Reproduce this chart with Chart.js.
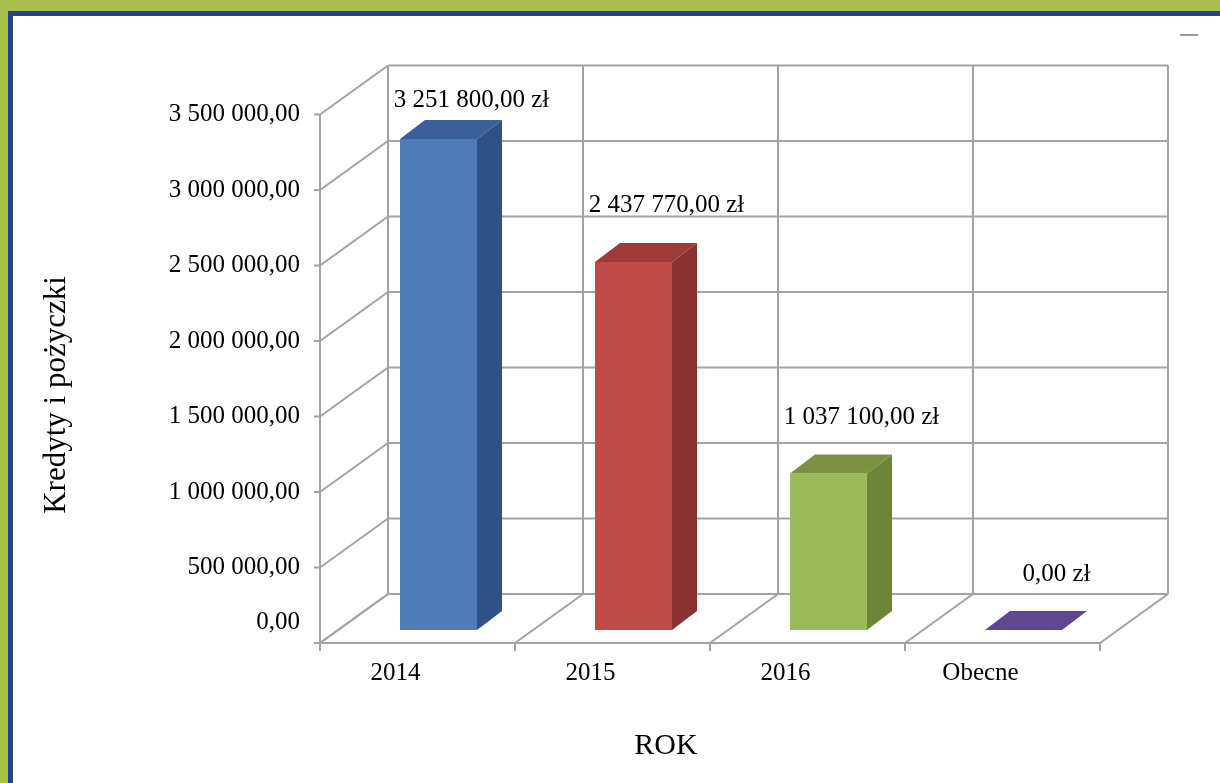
<!DOCTYPE html>
<html>
<head>
<meta charset="utf-8">
<script src="https://cdn.jsdelivr.net/npm/chart.js@4"></script>
<style>
  body { margin: 0; background: #fff; }
  #wrap { position: relative; width: 1220px; height: 783px; overflow: hidden; }
  #chartKredyty { position: absolute; left: 0; top: 0; }
  .green { position: absolute; background: #a9c14a; }
  .blue { position: absolute; background: #26418f; }
</style>
</head>
<body>
<div id="wrap">
  <canvas id="chartKredyty" width="1220" height="783"></canvas>
  <div class="green" style="left:0;top:0;width:1220px;height:11px"></div>
  <div class="green" style="left:0;top:0;width:8px;height:783px"></div>
  <div class="blue" style="left:8px;top:11px;width:1212px;height:5px"></div>
  <div class="blue" style="left:8px;top:11px;width:5px;height:772px"></div>
</div>
<script>
/* Dane */
const kategorie = ['2014', '2015', '2016', 'Obecne'];
const wartosci = [3251800, 2437770, 1037100, 0];
const etykietyWartosci = ['3 251 800,00 zł', '2 437 770,00 zł', '1 037 100,00 zł', '0,00 zł'];
const ticksY = [0, 500000, 1000000, 1500000, 2000000, 2500000, 3000000, 3500000];
const etykietyY = ['0,00', '500 000,00', '1 000 000,00', '1 500 000,00', '2 000 000,00', '2 500 000,00', '3 000 000,00', '3 500 000,00'];

const frontColors = ['#4f7bb9', '#bf4c49', '#9bba59', '#7a5fa0'];
const sideColors = ['#2f5186', '#8a3230', '#6c8538', '#5a4288'];
const topColors = ['#3b6099', '#9e3b39', '#7a9142', '#5f4690'];

const FONT = '"Liberation Serif", "DejaVu Serif", serif';
const GRID = '#a3a3a3';

/* przesuniecia plaszczyzn 3D wzgledem plaszczyzny slupkow */
const front = { dx: -21, dy: 13 };
const back = { dx: 47, dy: -36 };
const depth = { dx: 25, dy: -19 };

const line = (ctx, x1, y1, x2, y2) => {
  ctx.beginPath();
  ctx.moveTo(x1, y1);
  ctx.lineTo(x2, y2);
  ctx.stroke();
};

const poly = (ctx, pts, color) => {
  ctx.beginPath();
  ctx.moveTo(pts[0][0], pts[0][1]);
  for (let i = 1; i < pts.length; i++) ctx.lineTo(pts[i][0], pts[i][1]);
  ctx.closePath();
  ctx.fillStyle = color;
  ctx.fill();
};

const walls3d = {
  id: 'walls3d',
  beforeDatasetsDraw: (chart) => {
    const ctx = chart.ctx;
    const xs = chart.scales.x;
    const ys = chart.scales.y;
    const step = xs.getPixelForValue(1) - xs.getPixelForValue(0);
    let bounds = [];
    for (let i = 0; i <= kategorie.length; i++) {
      bounds.push(xs.getPixelForValue(0) - step / 2 + i * step);
    }
    const left = bounds[0];
    const right = bounds[bounds.length - 1];
    const y0 = ys.getPixelForValue(0);
    const yTop = ys.getPixelForValue(ticksY[ticksY.length - 1]);

    ctx.save();
    ctx.strokeStyle = GRID;
    ctx.lineWidth = 2;

    /* sciana tylna i lewa */
    ticksY.forEach((v) => {
      const y = ys.getPixelForValue(v);
      line(ctx, left + back.dx, y + back.dy, right + back.dx, y + back.dy);
      line(ctx, left + front.dx, y + front.dy, left + back.dx, y + back.dy);
    });
    bounds.forEach((b) => {
      line(ctx, b + back.dx, yTop + back.dy, b + back.dx, y0 + back.dy);
    });

    /* podloga */
    bounds.forEach((b) => {
      line(ctx, b + front.dx, y0 + front.dy, b + back.dx, y0 + back.dy);
    });
    line(ctx, left + front.dx, y0 + front.dy, right + front.dx, y0 + front.dy);

    /* os pionowa z podzialka */
    line(ctx, left + front.dx, yTop + front.dy, left + front.dx, y0 + front.dy);
    ctx.fillStyle = '#000';
    ctx.font = '25px ' + FONT;
    ctx.textAlign = 'right';
    ctx.textBaseline = 'middle';
    ticksY.forEach((v, i) => {
      const y = ys.getPixelForValue(v) + front.dy;
      line(ctx, left + front.dx - 6, y, left + front.dx, y);
      ctx.fillText(etykietyY[i], left + front.dx - 20, v === 0 ? y - 21 : y);
    });

    /* os pozioma */
    bounds.forEach((b) => {
      line(ctx, b + front.dx, y0 + front.dy, b + front.dx, y0 + front.dy + 8);
    });
    ctx.textAlign = 'center';
    kategorie.forEach((k, i) => {
      ctx.fillText(k, xs.getPixelForValue(i) + front.dx - 22, y0 + front.dy + 30);
    });

    /* tytuly osi */
    ctx.font = '30px ' + FONT;
    ctx.fillText('ROK', 666, 746);
    ctx.save();
    ctx.translate(57, 395);
    ctx.rotate(-Math.PI / 2);
    ctx.font = '31px ' + FONT;
    ctx.fillText('Kredyty i pożyczki', 0, 0);
    ctx.restore();

    /* kreska w prawym gornym rogu */
    ctx.strokeStyle = '#9a9a9a';
    line(ctx, 1180, 35, 1198, 35);
    ctx.restore();
  },
  afterDatasetsDraw: (chart) => {
    const ctx = chart.ctx;
    const meta = chart.getDatasetMeta(0);
    ctx.save();
    meta.data.forEach((bar, i) => {
      const w = bar.width / 2;
      const xl = bar.x - w;
      const xr = bar.x + w;
      const yt = bar.y;
      const yb = bar.base;
      if (yb - yt > 0.5) {
        poly(ctx, [[xr, yt], [xr + depth.dx, yt + depth.dy], [xr + depth.dx, yb + depth.dy], [xr, yb]], sideColors[i]);
      }
      poly(ctx, [[xl, yt], [xl + depth.dx, yt + depth.dy], [xr + depth.dx, yt + depth.dy], [xr, yt]], topColors[i]);

      ctx.fillStyle = '#000';
      ctx.font = '25px ' + FONT;
      ctx.textAlign = 'center';
      ctx.textBaseline = 'middle';
      ctx.fillText(etykietyWartosci[i], bar.x + 33, Math.max(yt - 56, 100));
    });
    ctx.restore();
  },
};

const cnv = document.getElementById('chartKredyty');
const chartKredyty = new Chart(cnv, {
  type: 'bar',
  plugins: [walls3d],
  data: {
    labels: kategorie,
    datasets: [
      {
        data: wartosci,
        backgroundColor: frontColors,
        borderWidth: 0,
        categoryPercentage: 1,
        barPercentage: 0.395,
      },
    ],
  },
  options: {
    responsive: false,
    animation: false,
    layout: {
      padding: { left: 341, right: 99, top: 101.5, bottom: 153 },
    },
    scales: {
      x: { display: false },
      y: { display: false, min: 0, max: 3500000 },
    },
    plugins: {
      legend: { display: false },
      tooltip: { enabled: false },
    },
  },
});
</script>
</body>
</html>
